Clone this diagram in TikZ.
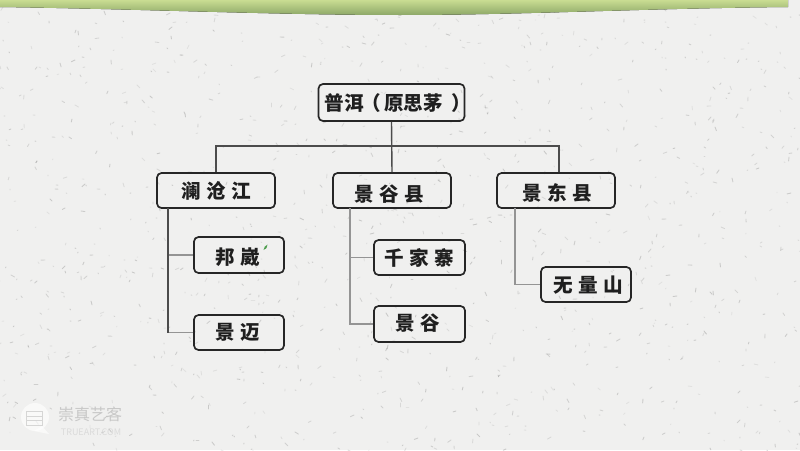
\documentclass[tikz,border=0pt]{standalone}
\usepackage{fontspec}
\setmainfont{Noto Sans CJK SC}[BoldFont={Noto Sans CJK SC Black}]
\newcommand\lbl[3]{\smash{\makebox[0pt]{\kern#1pt\kern#1pt\raisebox{\dimexpr-8pt+#2pt\relax}{#3}}}}
\newcommand\gp{\kern5.6pt}
\begin{document}
\begin{tikzpicture}[x=1pt,y=-1pt,
  box/.style={draw=black!85,line width=1.7pt,rounded corners=4.5pt,fill=none,inner sep=0pt,
    font=\bfseries\fontsize{19.6}{19.6}\selectfont,text=black!88},
  dark/.style={draw=black!70,line width=1.4pt},
  pale/.style={draw=black!42,line width=1.1pt}]
\useasboundingbox (0,0) rectangle (800,450);
\definecolor{bgc}{HTML}{F0F0EF}
\fill[bgc] (0,0) rectangle (800,450);
% speckled paper
\pgfmathsetseed{4217}
\foreach \i in {1,...,1100}{
  \pgfmathsetmacro{\px}{random(0,800)}
  \pgfmathsetmacro{\py}{random(0,450)}
  \pgfmathsetmacro{\pa}{random(0,180)}
  \pgfmathsetmacro{\pl}{random(1,4)}
  \pgfmathsetmacro{\po}{random(6,16)}
  \draw[black,opacity=\po/100,line width=.9pt,line cap=round] (\px,\py) -- ++(\pa:\pl);
}
% top band
\definecolor{bandtop}{HTML}{C9DC92}
\definecolor{bandbot}{HTML}{8DA868}
\fill[top color=bandtop,bottom color=bandbot] (0,0) -- (788,0) -- (788,7)
  .. controls (640,8.5) and (520,15) .. (400,15)
  .. controls (280,15) and (140,9) .. (0,7) -- cycle;
% watermark
\begin{scope}[opacity=.6]
\fill[white] (35,417) circle (14);
\fill[white] (42,426) -- (49,434) -- (34,431) -- cycle;
\draw[black!25,line width=.7pt] (26,411) rectangle (42,425) (26,416) -- (42,416) (26,420) -- (42,420);
\node[text=black!32,font=\fontsize{16}{16}\selectfont,inner sep=0pt] (wm1) at (90,414) {崇真艺客};
\node[text=black!20,font=\fontsize{9}{9}\selectfont,inner sep=0pt] (wm2) at (91,432) {TRUEART.COM};
\end{scope}
% connectors
\coordinate (bus) at (391.5,146);
\coordinate (t1) at (168,208);
\coordinate (t2) at (350,208);
\coordinate (t3) at (515,208);
% nodes
\node[box,minimum width=146pt,minimum height=37pt] (root) at (391.5,102.5) {\lbl{6}{0.5}{普洱\kern-2pt（\kern3pt原思茅\kern8pt）}};
\node[box,minimum width=118pt,minimum height=35pt] (lancang) at (216,190.5) {\lbl{0}{0.5}{澜\gp 沧\gp 江}};
\node[box,minimum width=118pt,minimum height=35pt] (jinggu) at (392,190.5) {\lbl{-2.5}{-2.5}{景\gp 谷\gp 县}};
\node[box,minimum width=118pt,minimum height=35pt] (jingdong) at (556,190.5) {\lbl{1}{-1.5}{景\gp 东\gp 县}};
\node[box,minimum width=90pt,minimum height=36pt] (bangwai) at (239,255) {\lbl{-1}{-1}{邦\gp 崴}};
\node[box,minimum width=90pt,minimum height=35pt] (jingmai) at (239,332.5) {\lbl{-1}{1.5}{景\gp 迈}};
\node[box,minimum width=91pt,minimum height=35pt] (qianjia) at (419.5,257.5) {\lbl{-0.5}{0.5}{千\gp 家\gp 寨}};
\node[box,minimum width=91pt,minimum height=36pt] (jinggu2) at (419.5,324) {\lbl{-2}{2}{景\gp 谷}};
\node[box,minimum width=90pt,minimum height=35pt] (wuliang) at (586,284.5) {\lbl{2}{0.5}{无\gp 量\gp 山}};
\draw[dark] (root.south) -- (jinggu.north);
\draw[dark] (lancang.north) |- (bus) -| ([xshift=3pt]jingdong.north);
\draw[pale] (t1 |- bangwai.west) -- (bangwai.west);
\draw[pale] (t1 |- jingmai.west) -- (jingmai.west);
\draw[dark] (t1) -- (t1 |- jingmai.west);
\draw[pale] (t2) |- (jinggu2.west);
\draw[pale] (t2 |- qianjia.west) -- (qianjia.west);
\draw[pale] (t3) |- (wuliang.west);
% leaf
\fill[green!45!black!70] (263.5,250) .. controls (264,247) and (265,246) .. (267.5,244.5) .. controls (267.5,247.5) and (266,249.5) .. (263.5,250) -- cycle;
\end{tikzpicture}
\end{document}
